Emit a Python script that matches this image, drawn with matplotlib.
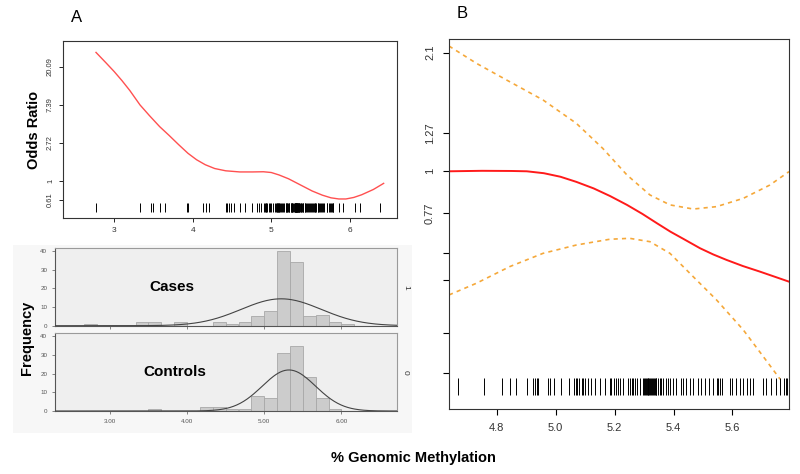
import numpy as np
import matplotlib
matplotlib.use("Agg")
from matplotlib import pyplot as plt
from matplotlib.patches import Rectangle

plt.rcParams['font.family'] = ['Liberation Sans', 'DejaVu Sans']

# ---- panel A (top): smooth log odds ratio vs % methylation
a_x = [2.77, 2.9, 3.0, 3.1, 3.2, 3.33, 3.45, 3.58, 3.7, 3.82, 3.94, 4.05, 4.16, 4.28, 4.42,
       4.6, 4.76, 4.9, 5.0, 5.1, 5.22, 5.37, 5.52, 5.65, 5.76, 5.86, 5.95, 6.05, 6.15, 6.3, 6.43]
a_logor = [3.38, 3.1, 2.88, 2.64, 2.38, 2.0, 1.72, 1.43, 1.2, 0.96, 0.73, 0.56, 0.43, 0.33, 0.27,
           0.24, 0.24, 0.245, 0.225, 0.16, 0.06, -0.1, -0.26, -0.37, -0.44, -0.47, -0.47, -0.43,
           -0.36, -0.22, -0.06]
a_yticks = [-0.5, 0, 1, 2, 3]
a_ylabels = ['0.61', '1', '2.72', '7.39', '20.09']

# rug of observed methylation values
rug = [2.77, 3.33, 3.47, 3.50, 3.59, 3.65, 3.93, 3.94, 4.13, 4.17, 4.21, 4.42, 4.44, 4.46, 4.49,
       4.53, 4.6,
       4.67, 4.757, 4.817, 4.845, 4.865, 4.904, 4.924, 4.93, 4.936, 4.941, 4.975, 4.98, 4.994,
       5.017, 5.046, 5.062, 5.068, 5.073, 5.080, 5.088, 5.093, 5.101, 5.110, 5.121, 5.133,
       5.152, 5.167, 5.184, 5.189, 5.197, 5.206, 5.212, 5.220, 5.229,
       5.246, 5.252, 5.258, 5.263, 5.269, 5.275, 5.286,
       5.297, 5.300, 5.303, 5.306, 5.309, 5.312, 5.315, 5.318, 5.321, 5.324, 5.327, 5.330,
       5.333, 5.336, 5.339, 5.342,
       5.348, 5.353, 5.359, 5.365, 5.374, 5.382, 5.387, 5.399, 5.410, 5.424, 5.433, 5.444,
       5.455, 5.467, 5.484, 5.495, 5.506, 5.521, 5.534, 5.546, 5.551, 5.557, 5.563,
       5.591, 5.600, 5.611, 5.625, 5.636, 5.649, 5.661, 5.670,
       5.704, 5.715, 5.732, 5.749, 5.760, 5.774, 5.781, 5.786,
       5.86, 5.91, 6.06, 6.13, 6.39]

# ---- panel A (bottom): histograms
bin_left = [2.667, 2.833, 3.0, 3.167, 3.333, 3.5, 3.667, 3.833, 4.0, 4.167, 4.333, 4.5, 4.667,
            4.833, 5.0, 5.167, 5.333, 5.5, 5.667, 5.833, 6.0]
bin_width = 1 / 6
cases = [1, 0, 0, 0, 2, 2, 0, 2, 0, 0, 2, 1, 2, 5, 8, 40, 34, 5, 6, 2, 1]
controls = [0, 0, 0, 0, 0, 1, 0, 0, 0, 2, 2, 1, 1, 8, 7, 31, 35, 18, 7, 1, 0]
cases_fit = (5.22, 0.52)      # mean, sd of fitted normal
controls_fit = (5.32, 0.345)

# ---- panel B: zoomed smooth with confidence band
b_x = [4.638, 4.75, 4.85, 4.902, 4.96, 5.016, 5.07, 5.129, 5.185, 5.242, 5.294, 5.344, 5.39,
       5.434, 5.49, 5.535, 5.58, 5.635, 5.693, 5.745, 5.792]
b_fit = [0.0, 0.003, 0.002, 0.0, -0.012, -0.034, -0.066, -0.107, -0.155, -0.21, -0.266, -0.325,
         -0.378, -0.423, -0.481, -0.52, -0.554, -0.592, -0.627, -0.66, -0.69]
b_up_x = [4.638, 4.731, 4.844, 4.957, 5.07, 5.16, 5.242, 5.32, 5.388, 5.467, 5.546, 5.637, 5.727, 5.792]
b_up = [0.783, 0.675, 0.56, 0.446, 0.3, 0.143, -0.023, -0.148, -0.21, -0.236, -0.221, -0.169, -0.086, -0.002]
b_lo_x = [4.638, 4.731, 4.844, 4.957, 5.07, 5.183, 5.251, 5.32, 5.388, 5.467, 5.546, 5.637, 5.705, 5.762]
b_lo = [-0.773, -0.7, -0.596, -0.513, -0.461, -0.425, -0.419, -0.44, -0.513, -0.659, -0.804, -0.992, -1.159, -1.3]
b_yticks = [0.742, 0.239, 0.0, -0.261, -0.5125, -0.68, -1.01, -1.26]
b_ylabels = ['2.1', '1.27', '1', '0.77', '', '', '', '']
b_xticks = [4.8, 5.0, 5.2, 5.4, 5.6]

W, H = 800, 474
fig = plt.figure(figsize=(8, 4.74), dpi=100)


def box(x0, y0, x1, y1):
    return [x0 / W, 1 - y1 / H, (x1 - x0) / W, (y1 - y0) / H]


# grey backdrop of the histogram panel
fig.patches.append(Rectangle((13 / W, 1 - 433 / H), 399 / W, 188 / H, transform=fig.transFigure,
                             facecolor='#f7f7f7', edgecolor='none', zorder=-1))

# A top
ax = fig.add_axes(box(63, 41, 397, 218))
ax.plot(a_x, a_logor, color='#ff5050', lw=1.0)
ax.vlines(rug, 0.034, 0.085, transform=ax.get_xaxis_transform(), color='black', lw=0.7)
ax.set_xlim(2.35, 6.6)
ax.set_ylim(-0.97, 3.68)
ax.set_yticks(a_yticks)
ax.set_yticklabels(a_ylabels, rotation=90, va='center', fontsize=5.5, color='#333333')
ax.set_xticks([3, 4, 5, 6])
ax.tick_params(axis='x', labelsize=6, labelcolor='#333333', length=3, width=0.6)
ax.tick_params(axis='y', length=3, width=0.6)
for s in ax.spines.values():
    s.set_color('#333333')
    s.set_linewidth(0.8)
ax.set_ylabel('Odds Ratio', fontsize=10.5, fontweight='bold', labelpad=4)
fig.text(77 / W, 1 - 17 / H, 'A', fontsize=12, ha='center', va='center')


def hist_panel(rect, counts, fit, label, tag, show_x):
    hx = fig.add_axes(rect)
    hx.set_facecolor('#efefef')
    hx.bar(bin_left, counts, width=bin_width, align='edge', color='#cccccc',
           edgecolor='#a8a8a8', lw=0.6, zorder=2)
    xs = np.linspace(2.29, 6.72, 300)
    mu, sd = fit
    dens = sum(counts) * bin_width / (sd * np.sqrt(2 * np.pi)) * np.exp(-(xs - mu) ** 2 / (2 * sd ** 2))
    hx.plot(xs, dens, color='#444444', lw=0.8, zorder=3)
    hx.set_xlim(2.29, 6.72)
    hx.set_ylim(0, 41.6)
    hx.set_yticks([0, 10, 20, 30, 40])
    hx.set_xticks([3, 4, 5, 6])
    if show_x:
        hx.set_xticklabels(['3.00', '4.00', '5.00', '6.00'])
    else:
        hx.set_xticklabels([])
        hx.tick_params(axis='x', length=0)
    hx.tick_params(labelsize=4.5, labelcolor='#555555', length=2, width=0.5, color='#555555')
    for s in hx.spines.values():
        s.set_color('#9a9a9a')
        s.set_linewidth(0.8)
    hx.spines['left'].set_color('#555555')
    hx.spines['bottom'].set_color('#555555')
    hx.text(0.35 if show_x else 0.342, 0.5, label, transform=hx.transAxes, fontsize=11,
            fontweight='bold', ha='center', va='center')
    hx.text(1.025, 0.5, tag, transform=hx.transAxes, rotation=270, fontsize=6,
            ha='center', va='center', color='#333333')
    return hx


hist_panel(box(55, 248.3, 397, 325.7), cases, cases_fit, 'Cases', '1', False)
hist_panel(box(55, 333.3, 397, 411), controls, controls_fit, 'Controls', '0', True)
fig.text(27 / W, 1 - 338 / H, 'Frequency', rotation=90, fontsize=10.5, fontweight='bold',
         ha='center', va='center')

# B
bx = fig.add_axes(box(449, 39, 789, 409))
bx.plot(b_x, b_fit, color='#ff1a1a', lw=1.4)
bx.plot(b_up_x, b_up, color='#f5a83a', lw=1.2, ls=(0, (2.5, 2.5)))
bx.plot(b_lo_x, b_lo, color='#f5a83a', lw=1.2, ls=(0, (2.5, 2.5)))
bx.vlines(rug, 0.038, 0.084, transform=bx.get_xaxis_transform(), color='black', lw=0.7)
bx.set_xlim(4.638, 5.792)
bx.set_ylim(-1.486, 0.827)
bx.set_yticks(b_yticks)
bx.set_yticklabels(b_ylabels, rotation=90, va='center', fontsize=8, color='#333333')
bx.set_xticks(b_xticks)
bx.set_xticklabels(['4.8', '5.0', '5.2', '5.4', '5.6'])
bx.tick_params(axis='x', labelsize=8, labelcolor='#333333', length=4, width=0.8, pad=6)
bx.tick_params(axis='y', length=4, width=0.8, pad=6)
for s in bx.spines.values():
    s.set_color('#333333')
    s.set_linewidth(0.8)
fig.text(462 / W, 1 - 14 / H, 'B', fontsize=12, ha='center', va='center')

fig.text(413 / W, 1 - 458 / H, '% Genomic Methylation', fontsize=10.5, fontweight='bold',
         ha='center', va='center')

fig.savefig('out.png', dpi=100)
